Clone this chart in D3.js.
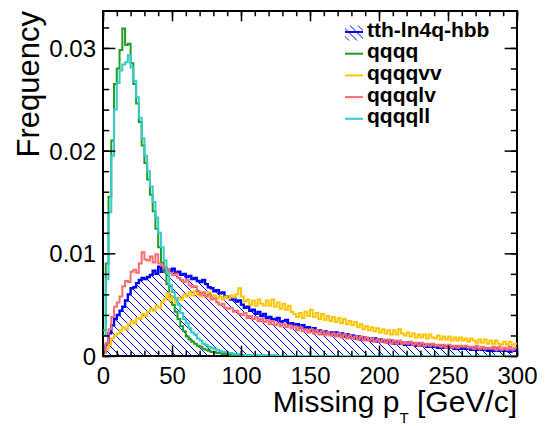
<!DOCTYPE html>
<html>
<head>
<meta charset="utf-8">
<script src="https://cdn.jsdelivr.net/npm/d3@7"></script>
<style>
body{margin:0;background:#fff}
svg{display:block;font-family:"Liberation Sans",Arial,Helvetica,sans-serif}
</style>
</head>
<body>
<svg></svg>
<script>

// 2 GeV bins from 0 to 300, values are frequency per bin
var binWidth = 2

var tth = [
0.0003,0.0011,0.0022,0.0030,0.0036,0.0040,0.0044,0.0048,0.0054,0.0060,
0.0066,0.0067,0.0071,0.0074,0.0076,0.0075,0.0077,0.0079,0.0083,0.0080,
0.0087,0.0082,0.0086,0.0084,0.0083,0.0085,0.0081,0.0082,0.0079,0.0080,
0.0077,0.0078,0.0075,0.0076,0.0073,0.0072,0.0074,0.0070,0.0067,0.0066,
0.0063,0.0064,0.0061,0.0062,0.0058,0.0057,0.0055,0.0056,0.0053,0.0054,
0.0050,0.0047,0.0048,0.0044,0.0045,0.0041,0.0043,0.0039,0.0041,0.0037,
0.0038,0.0036,0.0035,0.0037,0.0033,0.0034,0.0035,0.0031,0.0032,0.0030,
0.0031,0.0028,0.0030,0.0027,0.0028,0.0025,0.0027,0.0024,0.0025,0.0023,
0.0024,0.0022,0.0023,0.0021,0.0023,0.0020,0.0022,0.0019,0.0021,0.0019,
0.0020,0.0017,0.0019,0.0016,0.0018,0.0016,0.0017,0.0015,0.0017,0.0014,
0.0016,0.0014,0.0015,0.0013,0.0015,0.0012,0.0014,0.0012,0.0013,0.0011,
0.0013,0.0011,0.0012,0.0010,0.0012,0.0010,0.0011,0.0009,0.0011,0.0009,
0.0010,0.0008,0.0010,0.0008,0.0009,0.0008,0.0009,0.0007,0.0009,0.0007,
0.0008,0.0007,0.0008,0.0006,0.0008,0.0006,0.0007,0.0006,0.0007,0.0005,
0.0007,0.0005,0.0007,0.0005,0.0006,0.0005,0.0006,0.0004,0.0006,0.0005]

var qqqq = [
0.0025,0.0090,0.0155,0.0210,0.0265,0.0280,0.0298,0.0319,0.0303,0.0304,
0.0285,0.0265,0.0246,0.0228,0.0205,0.0188,0.0172,0.0157,0.0141,0.0124,
0.0106,0.0091,0.0082,0.0070,0.0058,0.0050,0.0043,0.0036,0.0029,0.0024,
0.0019,0.0016,0.0014,0.0012,0.0010,0.0009,0.0007,0.0006,0.0005,0.0004,
0.0004,0.0003,0.0003,0.0002,0.0002,0.0002,0.0001,0.0001,0.0001,0.0001,
0.0001,0.0001,0.0001,0.0001,0.0001,0.0001,0.0001,0,0,0,
0,0,0,0,0,0,0,0,0,0,
0,0,0,0,0,0,0,0,0,0,
0,0,0,0,0,0,0,0,0,0,
0,0,0,0,0,0,0,0,0,0,
0,0,0,0,0,0,0,0,0,0,
0,0,0,0,0,0,0,0,0,0,
0,0,0,0,0,0,0,0,0,0,
0,0,0,0,0,0,0,0,0,0,
0,0,0,0,0,0,0,0,0,0]

var qqqqvv = [
0.0003,0.0007,0.0011,0.0017,0.0020,0.0022,0.0025,0.0028,0.0026,0.0031,
0.0034,0.0032,0.0037,0.0036,0.0041,0.0039,0.0043,0.0046,0.0044,0.0049,
0.0047,0.0052,0.0055,0.0061,0.0054,0.0058,0.0052,0.0057,0.0055,0.0060,
0.0058,0.0062,0.0059,0.0063,0.0060,0.0058,0.0061,0.0059,0.0062,0.0057,
0.0059,0.0056,0.0058,0.0055,0.0058,0.0056,0.0059,0.0057,0.0060,0.0066,
0.0058,0.0053,0.0055,0.0050,0.0054,0.0049,0.0055,0.0051,0.0049,0.0054,
0.0049,0.0055,0.0048,0.0052,0.0046,0.0051,0.0045,0.0049,0.0043,0.0041,
0.0038,0.0042,0.0037,0.0043,0.0039,0.0045,0.0038,0.0042,0.0036,0.0041,
0.0035,0.0039,0.0034,0.0038,0.0033,0.0037,0.0032,0.0036,0.0031,0.0034,
0.0030,0.0033,0.0028,0.0031,0.0026,0.0029,0.0025,0.0028,0.0024,0.0027,
0.0023,0.0026,0.0022,0.0025,0.0021,0.0025,0.0021,0.0026,0.0022,0.0020,
0.0023,0.0019,0.0022,0.0018,0.0021,0.0018,0.0021,0.0017,0.0021,0.0018,
0.0017,0.0020,0.0016,0.0019,0.0016,0.0019,0.0015,0.0018,0.0015,0.0018,
0.0015,0.0017,0.0014,0.0017,0.0015,0.0013,0.0016,0.0013,0.0016,0.0012,
0.0015,0.0012,0.0015,0.0012,0.0011,0.0014,0.0011,0.0014,0.0011,0.0012]

var qqqqlv = [
0.0004,0.0013,0.0026,0.0038,0.0048,0.0052,0.0058,0.0068,0.0073,0.0072,
0.0082,0.0084,0.0081,0.0090,0.0101,0.0094,0.0093,0.0097,0.0091,0.0099,
0.0090,0.0088,0.0086,0.0084,0.0081,0.0079,0.0080,0.0076,0.0074,0.0072,
0.0074,0.0069,0.0067,0.0068,0.0063,0.0060,0.0062,0.0058,0.0060,0.0055,
0.0056,0.0052,0.0050,0.0051,0.0047,0.0046,0.0047,0.0043,0.0044,0.0041,
0.0040,0.0042,0.0037,0.0039,0.0036,0.0038,0.0034,0.0036,0.0033,0.0035,
0.0031,0.0034,0.0030,0.0032,0.0029,0.0031,0.0028,0.0030,0.0027,0.0029,
0.0025,0.0028,0.0024,0.0026,0.0023,0.0026,0.0022,0.0025,0.0021,0.0024,
0.0020,0.0023,0.0020,0.0022,0.0019,0.0022,0.0018,0.0021,0.0017,0.0020,
0.0017,0.0019,0.0016,0.0019,0.0015,0.0018,0.0015,0.0017,0.0014,0.0016,
0.0014,0.0016,0.0013,0.0016,0.0012,0.0015,0.0012,0.0015,0.0012,0.0013,
0.0012,0.0014,0.0011,0.0013,0.0010,0.0013,0.0010,0.0012,0.0010,0.0012,
0.0010,0.0011,0.0009,0.0011,0.0008,0.0011,0.0008,0.0010,0.0008,0.0010,
0.0009,0.0010,0.0008,0.0009,0.0007,0.0010,0.0007,0.0009,0.0007,0.0008,
0.0007,0.0009,0.0006,0.0009,0.0006,0.0008,0.0006,0.0009,0.0006,0.0008]

var qqqqll = [
0.0020,0.0075,0.0140,0.0195,0.0240,0.0266,0.0278,0.0284,0.0286,0.0293,
0.0281,0.0268,0.0252,0.0232,0.0212,0.0195,0.0180,0.0165,0.0150,0.0135,
0.0120,0.0106,0.0093,0.0081,0.0069,0.0062,0.0056,0.0050,0.0042,0.0036,
0.0032,0.0027,0.0023,0.0021,0.0017,0.0015,0.0012,0.0011,0.0009,0.0008,
0.0007,0.0006,0.0005,0.0004,0.0004,0.0003,0.0003,0.0002,0.0002,0.0002,
0.0001,0.0001,0.0001,0.0001,0.0001,0.0001,0.0001,0.0001,0.0001,0.0001,
0.0001,0.0001,0.0001,0,0,0,0,0,0,0,
0,0,0,0,0,0,0,0,0,0,
0,0,0,0,0,0,0,0,0,0,
0,0,0,0,0,0,0,0,0,0,
0,0,0,0,0,0,0,0,0,0,
0,0,0,0,0,0,0,0,0,0,
0,0,0,0,0,0,0,0,0,0,
0,0,0,0,0,0,0,0,0,0,
0,0,0,0,0,0,0,0,0,0]

var seriesNames = ["tth-ln4q-hbb","qqqq","qqqqvv","qqqqlv","qqqqll"]
var seriesColors = ["#0000ff","#1f9e1f","#ffc400","#ff6b6b","#33cccc"]
var seriesValues = [tth,qqqq,qqqqvv,qqqqlv,qqqqll]

var xMajor = [0,50,100,150,200,250,300]
var yMajor = [0,0.01,0.02,0.03]

var screen = {width:552,height:426}
var margins = {top:11,right:35,bottom:70,left:103}

var svg = d3.select("svg")
    .attr("width",screen.width)
    .attr("height",screen.height)

var width = screen.width-margins.left-margins.right
var height = screen.height-margins.top-margins.bottom

var xScale = d3.scaleLinear()
    .domain([0,300])
    .range([0,width])

var yScale = d3.scaleLinear()
    .domain([0,0.0336])
    .range([height,0])

var xMinor = d3.range(0,301,10)
var yMinor = d3.range(0,0.0336,0.002)

var defs = svg.append("defs")

defs.append("clipPath")
    .attr("id","plotclip")
    .append("rect")
    .attr("width",width)
    .attr("height",height)

defs.append("pattern")
    .attr("id","hatch")
    .attr("patternUnits","userSpaceOnUse")
    .attr("width",8)
    .attr("height",8)
    .append("path")
    .attr("d","M-2,-2L10,10M-2,6L2,10M6,-2L10,2")
    .attr("stroke","#0000ff")
    .attr("stroke-width",1)

var graph = svg.append("g")
    .attr("id","graph")
    .attr("transform","translate("+margins.left+","+margins.top+")")

// frame
graph.append("rect")
    .attr("width",width)
    .attr("height",height)
    .attr("fill","none")
    .attr("stroke","black")
    .attr("stroke-width",2)

var toSteps = function(vals)
{
    var pts = vals.map(function(v,i){return [i*binWidth,v]})
    pts.push([vals.length*binWidth,vals[vals.length-1]])
    return pts
}

var lineGenerator = d3.line()
    .x(function(d){return xScale(d[0])})
    .y(function(d){return yScale(d[1])})
    .curve(d3.curveStepAfter)

var areaGenerator = d3.area()
    .x(function(d){return xScale(d[0])})
    .y0(yScale(0))
    .y1(function(d){return yScale(d[1])})
    .curve(d3.curveStepAfter)

var hists = graph.append("g")
    .attr("clip-path","url(#plotclip)")

hists.append("path")
    .datum(toSteps(tth))
    .attr("d",areaGenerator)
    .attr("fill","url(#hatch)")

hists.selectAll("path.hline")
    .data(seriesValues)
    .enter()
    .append("path")
    .attr("class","hline")
    .attr("d",function(vals){return lineGenerator(toSteps(vals))})
    .attr("fill","none")
    .attr("stroke",function(vals,i){return seriesColors[i]})
    .attr("stroke-width",function(vals,i){return i==0?2.4:2})

// axes, ROOT style ticks pointing inward on all four sides
var yFmt = function(d){return d==0?"0":d.toFixed(2)}

var addAxis = function(axis,tx,ty)
{
    var g = graph.append("g")
        .attr("transform","translate("+tx+","+ty+")")
        .call(axis)
    g.select(".domain").remove()
    g.selectAll("line").attr("stroke","black").attr("stroke-width",1.5)
    g.selectAll("text")
        .attr("fill","black")
        .style("font-size","24px")
        .style("font-family","'Liberation Sans',Arial,sans-serif")
    return g
}

addAxis(d3.axisBottom(xScale).tickValues(xMajor).tickSize(-10.4).tickSizeOuter(0).tickPadding(11),0,height)
addAxis(d3.axisBottom(xScale).tickValues(xMinor).tickSize(-5.2).tickSizeOuter(0).tickFormat(""),0,height)
addAxis(d3.axisTop(xScale).tickValues(xMajor).tickSize(-10.4).tickSizeOuter(0).tickFormat(""),0,0)
addAxis(d3.axisTop(xScale).tickValues(xMinor).tickSize(-5.2).tickSizeOuter(0).tickFormat(""),0,0)

var yl = addAxis(d3.axisLeft(yScale).tickValues(yMajor).tickSize(-12.4).tickSizeOuter(0).tickPadding(7).tickFormat(yFmt),0,0)
yl.selectAll("text").attr("dy","0.36em")
addAxis(d3.axisLeft(yScale).tickValues(yMinor).tickSize(-6.2).tickSizeOuter(0).tickFormat(""),0,0)
addAxis(d3.axisRight(yScale).tickValues(yMajor).tickSize(-12.4).tickSizeOuter(0).tickFormat(""),width,0)
addAxis(d3.axisRight(yScale).tickValues(yMinor).tickSize(-6.2).tickSizeOuter(0).tickFormat(""),width,0)

// axis titles
var xt = svg.append("text")
    .attr("x",margins.left+width)
    .attr("y",412)
    .attr("text-anchor","end")
    .style("font-size","30px")
xt.append("tspan").text("Missing p")
xt.append("tspan").text("T").style("font-size","15px").attr("dy",11)
xt.append("tspan").text(" [GeV/c]").attr("dy",-11)

svg.append("text")
    .attr("transform","rotate(-90)")
    .attr("x",-margins.top)
    .attr("y",38.5)
    .attr("text-anchor","end")
    .style("font-size","31px")
    .text("Frequency")

// legend
var legend = svg.append("g")
    .attr("transform","translate(345,0)")

var rows = legend.selectAll("g")
    .data(seriesNames)
    .enter()
    .append("g")
    .attr("transform",function(d,i){return "translate(0,"+(36.5+i*21.7)+")"})

rows.filter(function(d,i){return i==0})
    .append("rect")
    .attr("x",0)
    .attr("y",-11)
    .attr("width",18)
    .attr("height",15)
    .attr("fill","url(#hatch)")

rows.append("line")
    .attr("x1",0)
    .attr("x2",18)
    .attr("y1",-4.5)
    .attr("y2",-4.5)
    .attr("stroke",function(d,i){return seriesColors[i]})
    .attr("stroke-width",2)

rows.append("text")
    .attr("x",22)
    .attr("y",0)
    .style("font-size","21px")
    .style("font-weight","bold")
    .text(function(d){return d})

</script>
</body>
</html>
